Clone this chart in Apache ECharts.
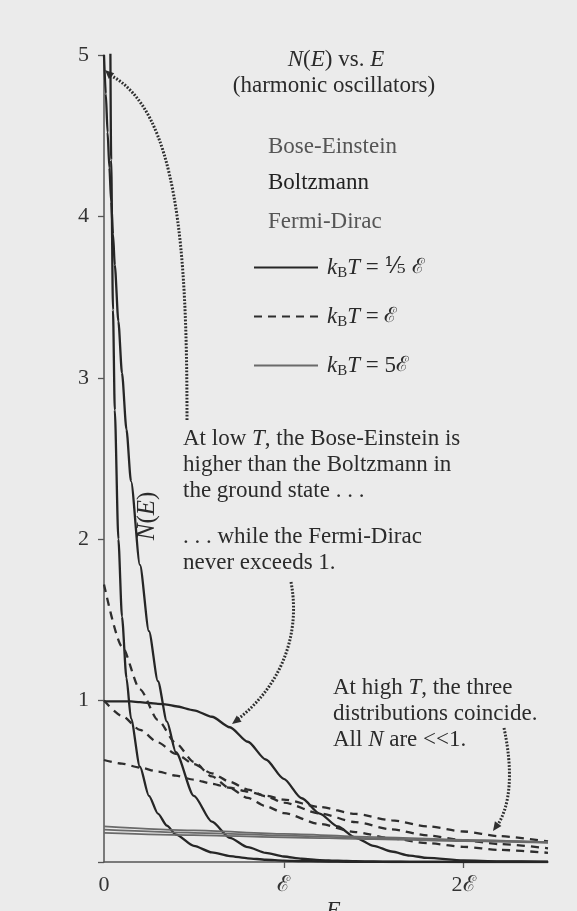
<!DOCTYPE html>
<html>
<head>
<meta charset="utf-8">
<script src="https://cdn.jsdelivr.net/npm/echarts@6/dist/echarts.min.js"></script>
<style>
html,body{margin:0;padding:0;background:#ebebeb;}
#c{width:577px;height:911px;}
</style>
</head>
<body>
<div id="c"></div>
<script>
// ---- data (E in units of ℰ, N(E) dimensionless) ----
const E_LOW = [0, 0.01, 0.02, 0.03, 0.04, 0.05, 0.06, 0.08, 0.10, 0.125, 0.15, 0.20, 0.25, 0.30, 0.35, 0.40, 0.50, 0.60, 0.70, 0.80, 0.90, 1.00, 1.10, 1.20, 1.30, 1.40, 1.50, 1.60, 1.70, 1.80, 2.00, 2.20, 2.47];
const BE_LOW = [60, 17, 8.9, 5.9, 4.35, 3.42, 2.8, 2.0, 1.52, 1.14, 0.89, 0.59, 0.41, 0.30, 0.225, 0.17, 0.10, 0.06, 0.037, 0.023, 0.014, 0.009, 0.006, 0.004, 0.002, 0.001, 0.001, 0, 0, 0, 0, 0, 0];
const BOLTZ_LOW = [5.0, 4.76, 4.52, 4.30, 4.09, 3.89, 3.70, 3.35, 3.03, 2.68, 2.36, 1.84, 1.43, 1.12, 0.87, 0.68, 0.41, 0.25, 0.15, 0.092, 0.056, 0.034, 0.02, 0.012, 0.008, 0.005, 0.003, 0.002, 0.001, 0.001, 0, 0, 0];
const FD_LOW = [0.995, 0.995, 0.995, 0.995, 0.995, 0.995, 0.995, 0.995, 0.995, 0.995, 0.995, 0.99, 0.985, 0.98, 0.975, 0.965, 0.94, 0.90, 0.835, 0.745, 0.635, 0.515, 0.395, 0.30, 0.22, 0.15, 0.10, 0.065, 0.04, 0.025, 0.01, 0.004, 0.001];

const E_MID = [0, 0.1, 0.2, 0.3, 0.4, 0.5, 0.6, 0.7, 0.8, 0.9, 1.0, 1.2, 1.4, 1.6, 1.8, 2.0, 2.2, 2.47];
const BE_MID = [1.72, 1.335, 1.07, 0.88, 0.735, 0.62, 0.53, 0.457, 0.397, 0.346, 0.303, 0.235, 0.185, 0.146, 0.117, 0.094, 0.075, 0.057];
const BOLTZ_MID = [1.0, 0.905, 0.819, 0.741, 0.670, 0.607, 0.549, 0.497, 0.449, 0.407, 0.368, 0.301, 0.247, 0.202, 0.165, 0.135, 0.111, 0.085];
const FD_MID = [0.632, 0.609, 0.585, 0.56, 0.535, 0.51, 0.485, 0.46, 0.436, 0.411, 0.387, 0.341, 0.298, 0.258, 0.221, 0.189, 0.16, 0.127];

const E_HIGH = [0, 0.5, 1.0, 1.5, 2.0, 2.47];
const BE_HIGH = [0.221, 0.196, 0.174, 0.155, 0.138, 0.124];
const BOLTZ_HIGH = [0.2, 0.181, 0.164, 0.148, 0.134, 0.122];
const FD_HIGH = [0.181, 0.167, 0.153, 0.141, 0.129, 0.119];

const X_TICK_VALUES = [0, 1, 2];
const X_TICK_LABELS = ['0', 'ℰ', '2ℰ'];
const Y_TICK_LABELS = ['', '1', '2', '3', '4', '5'];

const LEGEND_NAMES = ['low', 'mid', 'high'];
const LEGEND_TEXT = {
  low: '{i|k}{s|B}{i|T}{n| = }{f|⅕}{e| ℰ}',
  mid: '{i|k}{s|B}{i|T}{n| = }{e|ℰ}',
  high: '{i|k}{s|B}{i|T}{n| = 5}{e|ℰ}'
};

// ---- build ----
const SERIF = '"Liberation Serif", "Times New Roman", serif';
function pairs(xs, ys) { return xs.map((x, i) => [x, ys[i]]); }

const styles = {
  low:  { color: '#262626', width: 2.3, type: 'solid' },
  mid:  { color: '#2e2e2e', width: 2.3, type: [8, 6] },
  high: { color: '#6a6a6a', width: 1.7, type: 'solid' }
};
function mk(name, xs, ys) {
  const s = styles[name];
  return {
    type: 'line', name: name, data: pairs(xs, ys),
    symbol: 'none', smooth: 0.25, smoothMonotone: 'x', clip: true,
    silent: true, animation: false,
    lineStyle: { color: s.color, width: s.width, type: s.type },
    itemStyle: { color: s.color }
  };
}

const series = [
  mk('low', E_LOW, BE_LOW), mk('low', E_LOW, BOLTZ_LOW), mk('low', E_LOW, FD_LOW),
  mk('mid', E_MID, BE_MID), mk('mid', E_MID, BOLTZ_MID), mk('mid', E_MID, FD_MID),
  mk('high', E_HIGH, BE_HIGH), mk('high', E_HIGH, BOLTZ_HIGH), mk('high', E_HIGH, FD_HIGH)
];

const txtColor = '#2b2b2b';

function txt(text, x, y, opts) {
  opts = opts || {};
  const size = opts.size || 23, lh = opts.lineHeight || 26, col = opts.color || txtColor;
  return {
    type: 'text', x: x, y: y, silent: true, rotation: opts.rotation || 0,
    style: {
      text: text, fill: col,
      font: (opts.italic ? 'italic ' : '') + size + 'px ' + SERIF,
      textAlign: opts.align || 'left', textVerticalAlign: opts.valign || 'middle',
      lineHeight: lh,
      rich: {
        i: { fontStyle: 'italic', fontFamily: SERIF, fontSize: size, fill: col, lineHeight: lh },
        n: { fontFamily: SERIF, fontSize: size, fill: col, lineHeight: lh }
      }
    }
  };
}

function arrowHead(tx, ty, dx, dy) {
  const L = Math.hypot(dx, dy); dx /= L; dy /= L;
  const bx = tx - 9 * dx, by = ty - 9 * dy, px = -dy * 4, py = dx * 4;
  return { type: 'polygon', silent: true, shape: { points: [[tx, ty], [bx + px, by + py], [bx - px, by - py]] }, style: { fill: '#2f2f2f' } };
}
function dotted(p0, p1, p2, p3) {
  return {
    type: 'bezierCurve', silent: true,
    shape: { x1: p0[0], y1: p0[1], cpx1: p1[0], cpy1: p1[1], cpx2: p2[0], cpy2: p2[1], x2: p3[0], y2: p3[1] },
    style: { stroke: '#2f2f2f', lineWidth: 3, lineDash: [1.8, 1.6], fill: null }
  };
}

const graphic = [
  txt('{i|N}({i|E}) vs. {i|E}', 336, 60, { align: 'center' }),
  txt('(harmonic oscillators)', 334, 86, { align: 'center' }),
  txt('Bose-Einstein', 268, 147, { color: '#555555' }),
  txt('Boltzmann', 268, 183, { color: '#222222' }),
  txt('Fermi-Dirac', 268, 222, { color: '#555555' }),
  txt('At low {i|T}, the Bose-Einstein is\nhigher than the Boltzmann in\nthe ground state . . .', 183, 426, { valign: 'top' }),
  txt('. . . while the Fermi-Dirac\nnever exceeds 1.', 183, 524, { valign: 'top' }),
  txt('At high {i|T}, the three\ndistributions coincide.\nAll {i|N} are <<1.', 333, 675, { valign: 'top' }),
  txt('{i|N}({i|E})', 147, 516, { align: 'center', rotation: Math.PI / 2, size: 25 }),
  txt('E', 326, 898, { italic: true, valign: 'top', size: 24 }),
  dotted([187, 420], [187, 250], [178, 110], [110, 75]),
  arrowHead(105, 70, -1, -0.95),
  dotted([291, 582], [302, 640], [276, 690], [238, 719]),
  arrowHead(232, 724, -1.2, 0.9),
  dotted([504, 728], [513, 770], [511, 805], [497, 826]),
  arrowHead(493, 831, -0.6, 0.85)
];

const chart = echarts.init(document.getElementById('c'), null, { renderer: 'canvas' });
chart.setOption({
  backgroundColor: '#ebebeb',
  animation: false,
  grid: { left: 104, right: 29, top: 55, bottom: 49 },
  legend: {
    data: LEGEND_NAMES, orient: 'vertical', left: 248, top: 251,
    itemWidth: 64, itemHeight: 14, itemGap: 24, selectedMode: false,
    itemStyle: { opacity: 0 },
    formatter: function (name) { return LEGEND_TEXT[name]; },
    textStyle: {
      fontFamily: SERIF, fontSize: 23, color: txtColor, padding: [0, 0, 0, 4],
      rich: {
        i: { fontStyle: 'italic', fontFamily: SERIF, fontSize: 23, color: txtColor },
        s: { fontFamily: SERIF, fontSize: 15, color: txtColor, padding: [12, 0, 0, 0] },
        n: { fontFamily: SERIF, fontSize: 23, color: txtColor },
        f: { fontFamily: '"DejaVu Serif", serif', fontSize: 22, color: txtColor },
        e: { fontFamily: '"DejaVu Serif", serif', fontSize: 21, color: txtColor }
      }
    }
  },
  xAxis: {
    type: 'value', min: 0, max: 2.47, interval: 1,
    splitLine: { show: false },
    axisLine: { lineStyle: { color: '#555', width: 1.5 } },
    axisTick: { show: true, length: 6, customValues: [1, 2], lineStyle: { color: '#555', width: 1.3 } },
    axisLabel: {
      customValues: X_TICK_VALUES, margin: 12, color: '#333',
      fontFamily: '"Liberation Serif", "DejaVu Serif", serif', fontSize: 22,
      formatter: function (v) { const k = X_TICK_VALUES.indexOf(Math.round(v)); return k >= 0 ? X_TICK_LABELS[k] : ''; }
    }
  },
  yAxis: {
    type: 'value', min: 0, max: 5, interval: 1,
    splitLine: { show: false },
    axisLine: { show: true, lineStyle: { color: '#555', width: 1.5 } },
    axisTick: { show: true, length: 6, lineStyle: { color: '#555', width: 1.3 } },
    axisLabel: {
      margin: 15, color: '#333', fontFamily: SERIF, fontSize: 22,
      formatter: function (v) { return Y_TICK_LABELS[Math.round(v)] || ''; }
    }
  },
  series: series,
  graphic: graphic
});
</script>
</body>
</html>
